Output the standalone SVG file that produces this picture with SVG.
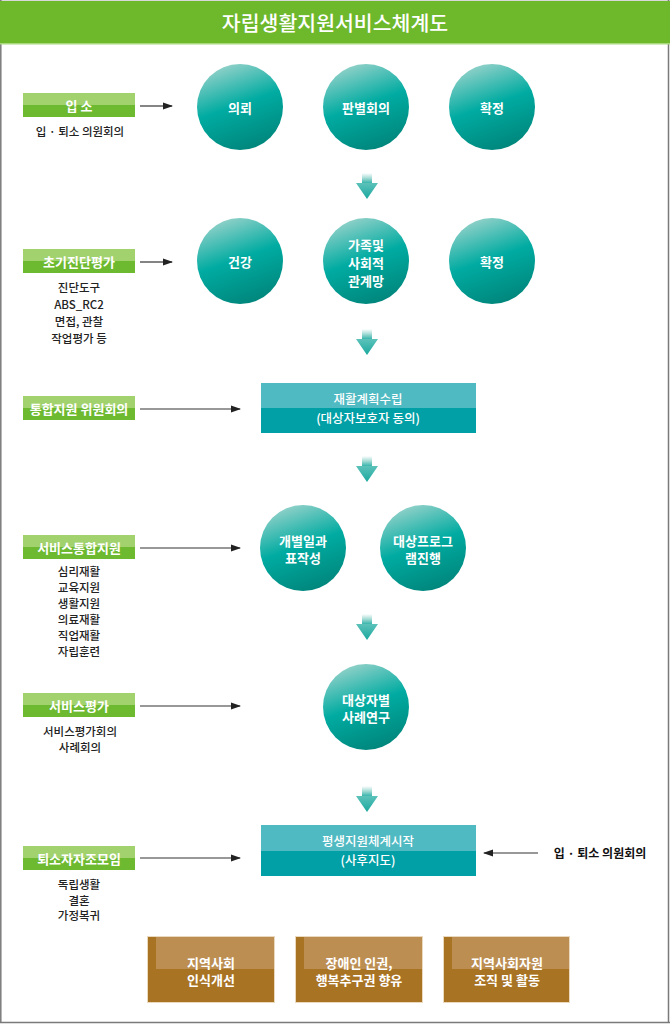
<svg xmlns="http://www.w3.org/2000/svg" width="670" height="1024" viewBox="0 0 670 1024">
<defs>
<linearGradient id="cg" x1="0.3" y1="0" x2="0.65" y2="1">
<stop offset="0" stop-color="#95d2ca"/>
<stop offset="0.48" stop-color="#00aba1"/>
<stop offset="1" stop-color="#00857b"/>
</linearGradient>
<linearGradient id="ag" x1="0" y1="0" x2="0" y2="1">
<stop offset="0" stop-color="#ffffff"/>
<stop offset="0.45" stop-color="#a6dcd6"/>
<stop offset="1" stop-color="#22ada3"/>
</linearGradient>
<linearGradient id="hg" x1="0" y1="0" x2="0" y2="1">
<stop offset="0" stop-color="#5cc2ba"/>
<stop offset="1" stop-color="#1aa89e"/>
</linearGradient>
<marker id="ah" markerWidth="10" markerHeight="8" refX="9" refY="4" orient="auto" markerUnits="userSpaceOnUse">
<path d="M0,0.5 L10,4 L0,7.5 Z" fill="#222"/>
</marker>
<g id="down">
<rect x="-5" y="0" width="10" height="11" fill="url(#ag)"/>
<path d="M-11,10 L11,10 L0,26 Z" fill="url(#hg)"/>
</g>
</defs>
<style>
.t{font-family:"Noto Sans CJK KR","Noto Sans",sans-serif;}
.w{fill:#fff;font-weight:bold;font-size:13px;text-anchor:middle;dominant-baseline:central;}
.m{fill:#fff;font-weight:500;font-size:12.5px;text-anchor:middle;dominant-baseline:central;}
.s{fill:#222;font-weight:500;font-size:11.5px;text-anchor:middle;dominant-baseline:central;}
.lt{fill:#a2d26e;}
.dk{fill:#6db92f;}
.cir{fill:url(#cg);}
.rt{fill:#50bac2;}
.rb{fill:#00a0a6;}
.bd{fill:#a97324;stroke:#ead9bf;stroke-width:1;}
.bl{fill:#bc8e52;}
.ln{stroke:#333;stroke-width:1.2;fill:none;marker-end:url(#ah);}
</style>
<rect x="0" y="0" width="670" height="1024" fill="#fff"/>
<g id="frame">
<line x1="0" y1="0.5" x2="670" y2="0.5" stroke="#d8d8d8"/>
<line x1="0.8" y1="0" x2="0.8" y2="1023" stroke="#7a7a7a" stroke-width="1.5"/>
<line x1="668.5" y1="0" x2="668.5" y2="1023" stroke="#7a7a7a" stroke-width="1.5"/>
<line x1="0" y1="1022.5" x2="670" y2="1022.5" stroke="#7a7a7a" stroke-width="1.5"/>
</g>
<g id="title">
<rect x="0" y="1" width="670" height="42" fill="#6eb82c"/>
<rect x="0" y="43" width="670" height="1.5" fill="#a9d77c"/>
<text class="t" x="335" y="22" fill="#fff" font-size="20.5" font-weight="500" text-anchor="middle" dominant-baseline="central">자립생활지원서비스체계도</text>
</g>

<g id="label-ipso">
<rect class="lt" x="23" y="93" width="112" height="12"/>
<rect class="dk" x="23" y="105" width="112" height="12"/>
<text class="t w" x="79" y="105">입 소</text>
<text class="t s" x="80" y="131">입 · 퇴소 의원회의</text>
</g>
<g id="label-cho">
<rect class="lt" x="23" y="249" width="112" height="12"/>
<rect class="dk" x="23" y="261" width="112" height="12"/>
<text class="t w" x="79" y="261">초기진단평가</text>
<text class="t s" x="79" y="287">진단도구</text>
<text class="t s" x="79" y="304">ABS_RC2</text>
<text class="t s" x="79" y="321">면접, 관찰</text>
<text class="t s" x="79" y="338">작업평가 등</text>
</g>
<g id="label-tong">
<rect class="lt" x="23" y="396" width="112" height="12"/>
<rect class="dk" x="23" y="408" width="112" height="12"/>
<text class="t w" x="79" y="408">통합지원 위원회의</text>
</g>
<g id="label-seobi">
<rect class="lt" x="23" y="535" width="112" height="12"/>
<rect class="dk" x="23" y="547" width="112" height="12"/>
<text class="t w" x="79" y="547">서비스통합지원</text>
<text class="t s" x="79" y="571">심리재활</text>
<text class="t s" x="79" y="587">교육지원</text>
<text class="t s" x="79" y="603">생활지원</text>
<text class="t s" x="79" y="619">의료재활</text>
<text class="t s" x="79" y="635">직업재활</text>
<text class="t s" x="79" y="651">자립훈련</text>
</g>
<g id="label-pyeong">
<rect class="lt" x="23" y="693" width="112" height="12"/>
<rect class="dk" x="23" y="705" width="112" height="12"/>
<text class="t w" x="79" y="705">서비스평가</text>
<text class="t s" x="80" y="731">서비스평가회의</text>
<text class="t s" x="80" y="747">사례회의</text>
</g>
<g id="label-toeso">
<rect class="lt" x="23" y="846" width="112" height="12"/>
<rect class="dk" x="23" y="858" width="112" height="12"/>
<text class="t w" x="79" y="858">퇴소자자조모임</text>
<text class="t s" x="79" y="884">독립생활</text>
<text class="t s" x="79" y="900">결혼</text>
<text class="t s" x="79" y="915">가정복귀</text>
</g>

<g id="c-uiroe"><circle class="cir" cx="240" cy="107" r="43"/><text class="t w" x="240" y="107">의뢰</text></g>
<g id="c-panbyeol"><circle class="cir" cx="366" cy="107" r="43"/><text class="t w" x="366" y="107">판별회의</text></g>
<g id="c-hwakjeong1"><circle class="cir" cx="492" cy="107" r="43"/><text class="t w" x="492" y="107">확정</text></g>

<g id="c-geongang"><circle class="cir" cx="240" cy="261" r="43"/><text class="t w" x="240" y="261">건강</text></g>
<g id="c-gajok"><circle class="cir" cx="366" cy="261" r="43"/><text class="t w" x="366" y="244">가족및</text><text class="t w" x="366" y="262">사회적</text><text class="t w" x="366" y="280">관계망</text></g>
<g id="c-hwakjeong2"><circle class="cir" cx="492" cy="261" r="43"/><text class="t w" x="492" y="261">확정</text></g>

<g id="r-jaehwal">
<rect class="rt" x="261" y="383" width="215" height="25"/>
<rect class="rb" x="261" y="408" width="215" height="25"/>
<text class="t m" x="368" y="398">재활계획수립</text>
<text class="t m" x="368" y="417">(대상자보호자 동의)</text>
</g>

<g id="c-gaebyeol"><circle class="cir" cx="303" cy="548" r="43"/><text class="t w" x="303" y="540">개별일과</text><text class="t w" x="303" y="557">표작성</text></g>
<g id="c-program"><circle class="cir" cx="423" cy="548" r="43"/><text class="t w" x="423" y="540">대상프로그</text><text class="t w" x="423" y="557">램진행</text></g>

<g id="c-sarye"><circle class="cir" cx="366" cy="707" r="43"/><text class="t w" x="366" y="699">대상자별</text><text class="t w" x="366" y="716">사례연구</text></g>

<g id="r-pyeongsaeng">
<rect class="rt" x="261" y="825" width="215" height="26"/>
<rect class="rb" x="261" y="851" width="215" height="25"/>
<text class="t m" x="368" y="840.5">평생지원체계시작</text>
<text class="t m" x="368" y="859">(사후지도)</text>
</g>
<g id="label-right">
<text class="t" x="600" y="852" fill="#111" font-size="12" font-weight="bold" text-anchor="middle" dominant-baseline="central">입 · 퇴소 의원회의</text>
</g>

<g id="b1">
<rect class="bd" x="147.5" y="936.5" width="127" height="66"/>
<rect class="bl" x="156" y="937" width="118" height="32"/>
<text class="t w" x="211" y="962">지역사회</text>
<text class="t w" x="211" y="979">인식개선</text>
</g>
<g id="b2">
<rect class="bd" x="295.5" y="936.5" width="127" height="66"/>
<rect class="bl" x="304" y="937" width="118" height="32"/>
<text class="t w" x="359" y="962">장애인 인권,</text>
<text class="t w" x="359" y="979">행복추구권 향유</text>
</g>
<g id="b3">
<rect class="bd" x="443.5" y="936.5" width="126" height="66"/>
<rect class="bl" x="452" y="937" width="117" height="32"/>
<text class="t w" x="507" y="962">지역사회자원</text>
<text class="t w" x="507" y="979">조직 및 활동</text>
</g>

<g id="connectors">
<line class="ln" x1="140" y1="106" x2="172" y2="106"/>
<line class="ln" x1="140" y1="262" x2="172" y2="262"/>
<line class="ln" x1="140" y1="409" x2="240" y2="409"/>
<line class="ln" x1="140" y1="548" x2="240" y2="548"/>
<line class="ln" x1="140" y1="706" x2="240" y2="706"/>
<line class="ln" x1="140" y1="858" x2="240" y2="858"/>
<line class="ln" x1="538" y1="853" x2="484" y2="853"/>
<use href="#down" x="367" y="173"/>
<use href="#down" x="367" y="329"/>
<use href="#down" x="367" y="456"/>
<use href="#down" x="367" y="614"/>
<use href="#down" x="367" y="786"/>
</g>
</svg>
